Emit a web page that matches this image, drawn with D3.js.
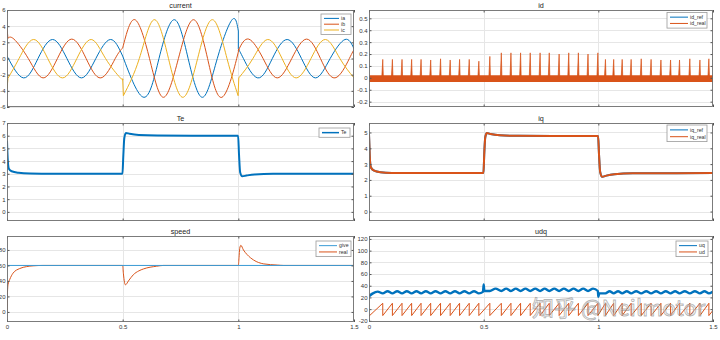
<!DOCTYPE html>
<html><head><meta charset="utf-8">
<script src="https://cdn.jsdelivr.net/npm/d3@7"></script>
<style>body{margin:0;background:#fff}svg{display:block}</style>
</head><body><svg id="c" width="720" height="340"></svg>
<script>
// ---------- DATA ----------
const xTicks = [0, 0.5, 1, 1.5];
const xTickLabels = ["0", "0.5", "1", "1.5"];

// current (phase currents, key points: extrema / zero crossings), null = step break
const ia = [[0,0.3],[0.072,-2.4],[0.134,0],[0.197,2.35],[0.259,0],[0.322,-2.4],[0.384,0],[0.447,2.35],[0.5,0.3],null,
  [0.5,0.3],[0.592,-4.8],[0.657,0],[0.723,4.8],[0.783,0],[0.845,-4.8],[0.909,0],[0.973,4.8],[1.0,3.4],null,
  [1.0,1.2],[1.022,0],[1.084,-2.4],[1.147,0],[1.211,2.35],[1.273,0],[1.334,-2.4],[1.397,0],[1.461,2.35],[1.5,1.2]];
const ib = [[0,3.8],[0.004,2.5],null,
  [0.004,2.5],[0.030,2.4],[0.092,0],[0.156,-2.4],[0.218,0],[0.280,2.4],[0.342,0],[0.406,-2.4],[0.468,0],[0.5,1.3],null,
  [0.5,1.3],[0.553,4.8],[0.616,0],[0.676,-4.8],[0.741,0],[0.806,4.8],[0.867,0],[0.929,-4.8],[0.993,0],[1.0,1.0],null,
  [1.0,1.0],[1.045,2.4],[1.107,0],[1.168,-2.4],[1.231,0],[1.295,2.4],[1.355,0],[1.418,-2.4],[1.480,0],[1.5,1.1]];
const ic = [[0,-3.8],[0.004,-2.5],null,
  [0.004,-2.45],[0.052,0],[0.114,2.35],[0.176,0],[0.240,-2.4],[0.302,0],[0.364,2.35],[0.426,0],[0.490,-2.4],[0.5,-2.5],null,
  [0.503,-4.6],[0.572,0],[0.636,4.8],[0.698,0],[0.760,-4.8],[0.824,0],[0.889,4.8],[0.951,0],[0.999,-4.6],null,
  [1.002,-2.4],[1.063,0],[1.127,2.35],[1.189,0],[1.250,-2.4],[1.314,0],[1.377,2.35],[1.439,0],[1.5,-2.4]];

// id
const idRef = [[0,0],[1.5,0]];
const idSpikeT = [0.060,0.102,0.144,0.186,0.227,0.269,0.312,0.354,0.395,0.437,0.479,0.527,0.577,0.619,0.661,0.703,0.746,0.786,0.829,0.871,0.913,0.955,0.998,1.031,1.067,1.104,1.143,1.187,1.230,1.273,1.315,1.354,1.399,1.443,1.482];
const idSpikeV = [0.155,0.155,0.155,0.155,0.155,0.15,0.16,0.15,0.155,0.155,0.14,0.18,0.21,0.21,0.21,0.21,0.21,0.21,0.2,0.21,0.21,0.2,0.21,0.155,0.155,0.155,0.155,0.16,0.155,0.15,0.15,0.15,0.16,0.15,0.16];
const idBand = [-0.035, 0.022];

// Te
const te = [[0,5.6],[0.003,4.2],[0.008,3.4],[0.02,3.2],[0.05,3.08],[0.1,3.02],[0.2,3.0],[0.499,3.0],[0.503,4.5],[0.507,5.8],[0.514,6.22],[0.53,6.15],[0.57,6.05],[0.65,6.01],[0.8,6.0],[0.999,6.0],[1.003,4.5],[1.008,3.1],[1.017,2.8],[1.035,2.86],[1.07,2.95],[1.15,3.0],[1.5,3.0]];

// iq
const iqRef = [[0,4.9],[0.003,3.6],[0.008,2.8],[0.02,2.6],[0.05,2.48],[0.1,2.44],[0.2,2.43],[0.499,2.43],[0.503,3.8],[0.507,4.7],[0.514,4.96],[0.53,4.9],[0.57,4.82],[0.65,4.79],[0.8,4.78],[0.999,4.78],[1.003,3.6],[1.008,2.5],[1.017,2.2],[1.035,2.27],[1.07,2.36],[1.15,2.42],[1.5,2.43]];
const iqReal = [[0,4.9],[0.003,3.6],[0.008,2.8],[0.02,2.6],[0.05,2.48],[0.1,2.44],[0.2,2.43],[0.499,2.43],[0.503,3.8],[0.507,4.7],[0.514,4.96],[0.53,4.9],[0.57,4.82],[0.65,4.79],[0.8,4.78],[0.999,4.78],[1.003,3.6],[1.008,2.5],[1.017,2.2],[1.035,2.27],[1.07,2.36],[1.15,2.42],[1.5,2.43]];

// speed
const speedGive = [[0,60],[1.5,60]];
const speedReal = [[0,0],[0.002,25],[0.005,36],[0.012,42],[0.026,50],[0.055,56],[0.085,58.5],[0.113,59.5],[0.156,60],[0.5,60],[0.503,50],[0.508,38],[0.512,35],[0.525,40],[0.546,48],[0.57,53],[0.59,55.5],[0.647,59],[0.676,60],[1.0,60],[1.003,70],[1.006,82],[1.011,86],[1.022,80],[1.038,74],[1.066,67],[1.11,62],[1.168,60.5],[1.196,60],[1.5,60]];

// udq
const uq = [[0,22],[0.015,26.5],[0.038,30],[0.060,27],[0.081,30.5],[0.102,27],[0.123,30.5],[0.144,27],[0.165,30.5],[0.186,27],[0.207,30.5],[0.227,27],[0.248,30.5],[0.269,27],[0.290,30.5],[0.312,27],[0.333,30.5],[0.354,27],[0.375,30.5],[0.395,27],[0.416,30.5],[0.437,27],[0.458,30.5],[0.479,27],[0.497,29.5],[0.5,42],[0.503,31],[0.527,31],[0.552,35],[0.577,31],[0.598,35],[0.619,31],[0.640,35],[0.661,31],[0.682,35],[0.703,31],[0.725,35],[0.746,31],[0.766,35],[0.786,31],[0.808,35],[0.829,31],[0.850,35],[0.871,31],[0.892,35],[0.913,31],[0.934,35],[0.955,31],[0.977,35],[0.998,31],[1.0,21],[1.004,27],[1.031,27],[1.049,30.5],[1.067,27],[1.086,30.5],[1.104,27],[1.124,30.5],[1.143,27],[1.165,30.5],[1.187,27],[1.209,30.5],[1.230,27],[1.252,30.5],[1.273,27],[1.294,30.5],[1.315,27],[1.335,30.5],[1.354,27],[1.377,30.5],[1.399,27],[1.421,30.5],[1.443,27],[1.463,30.5],[1.482,27],[1.5,30]];
const udDropT = idSpikeT;
const udLevels = [-11, 10];
const udStart = [0, -12];
const udEnd = [1.5, -2];

// ---------- DRAW ----------
const C = {blue:"#0072BD", orange:"#D95319", yellow:"#EDB120", lightBlue:"#3A9BD5"};
const svg = d3.select("#c");
const FONT = "'Liberation Sans', Arial, sans-serif";

function panel(cfg){
  const g = svg.append("g");
  const x = d3.scaleLinear().domain([0,1.5]).range([cfg.x0,cfg.x1]);
  const y = d3.scaleLinear().domain(cfg.dom).range([cfg.y1,cfg.y0]);
  g.append("rect").attr("x",cfg.x0).attr("y",cfg.y0).attr("width",cfg.x1-cfg.x0).attr("height",cfg.y1-cfg.y0).attr("fill","#fff");
  g.selectAll(".gy").data(cfg.ticks).join("line").attr("x1",cfg.x0).attr("x2",cfg.x1)
    .attr("y1",d=>Math.round(y(d))+0.5).attr("y2",d=>Math.round(y(d))+0.5).attr("stroke","#e6e6e6").attr("stroke-width",1);
  g.selectAll(".gx").data([0.5,1]).join("line").attr("y1",cfg.y0).attr("y2",cfg.y1)
    .attr("x1",d=>Math.round(x(d))+0.5).attr("x2",d=>Math.round(x(d))+0.5).attr("stroke","#e6e6e6").attr("stroke-width",1);
  const cid = "clip-"+cfg.name;
  svg.append("clipPath").attr("id",cid).append("rect").attr("x",cfg.x0).attr("y",cfg.y0).attr("width",cfg.x1-cfg.x0).attr("height",cfg.y1-cfg.y0);
  const plot = g.append("g").attr("clip-path",`url(#${cid})`);
  const axes = g.append("g");
  const fmt = v => String(v);
  const styleAx = a => { a.attr("font-family",FONT).attr("font-size",6); a.select(".domain").remove(); a.selectAll("line").attr("stroke","#555"); a.selectAll("text").attr("fill","#333"); };
  axes.append("g").attr("transform",`translate(${cfg.x0},0)`).call(d3.axisLeft(y).tickValues(cfg.ticks).tickSize(-2.5).tickPadding(1.5).tickFormat(fmt)).call(styleAx);
  axes.append("g").attr("transform",`translate(${cfg.x1},0)`).call(d3.axisRight(y).tickValues(cfg.ticks).tickSize(-2.5).tickFormat("")).call(styleAx);
  axes.append("g").attr("transform",`translate(0,${cfg.y1})`).call(d3.axisBottom(x).tickValues(xTicks).tickSize(-2.5).tickPadding(3).tickFormat((d,i)=>cfg.xlab?xTickLabels[i]:"")).call(styleAx);
  axes.append("g").attr("transform",`translate(0,${cfg.y0})`).call(d3.axisTop(x).tickValues(xTicks).tickSize(-2.5).tickFormat("")).call(styleAx);
  g.append("rect").attr("x",cfg.x0+0.5).attr("y",cfg.y0+0.5).attr("width",cfg.x1-cfg.x0-1).attr("height",cfg.y1-cfg.y0-1)
    .attr("fill","none").attr("stroke","#6e6e6e").attr("stroke-width",0.9);
  g.append("text").attr("x",(cfg.x0+cfg.x1)/2).attr("y",cfg.y0-2.5).attr("text-anchor","middle")
    .attr("font-family",FONT).attr("font-size",7.2).attr("fill","#222").text(cfg.name);
  return {g, plot, x, y, cfg};
}

function series(P, data, color, width, curve){
  const segs = []; let cur = [];
  data.forEach(d => { if (d === null) { segs.push(cur); cur = []; } else cur.push(d); });
  segs.push(cur);
  const line = d3.line().x(d=>P.x(d[0])).y(d=>P.y(d[1])).curve(curve || d3.curveLinear);
  const lin = d3.line().x(d=>P.x(d[0])).y(d=>P.y(d[1]));
  segs.forEach((s,i) => {
    P.plot.append("path").attr("d",line(s)).attr("fill","none").attr("stroke",color).attr("stroke-width",width).attr("stroke-linejoin","round");
    if (i>0) P.plot.append("path").attr("d",lin([segs[i-1][segs[i-1].length-1], s[0]])).attr("fill","none").attr("stroke",color).attr("stroke-width",width);
  });
}

function legend(P, right, top, w, items, sp){
  const h = items.length*sp + 3;
  const L = P.g.append("g");
  L.append("rect").attr("x",right-w).attr("y",top).attr("width",w).attr("height",h).attr("fill","#fff").attr("stroke","#9a9a9a").attr("stroke-width",0.8);
  items.forEach((it,i) => {
    const yy = top + 1.5 + sp/2 + i*sp;
    L.append("line").attr("x1",right-w+3).attr("x2",right-w+3+it.len).attr("y1",yy).attr("y2",yy).attr("stroke",it.color).attr("stroke-width",it.width);
    L.append("text").attr("x",right-w+5+it.len).attr("y",yy+1.8).attr("font-family",FONT).attr("font-size",5.2).attr("fill","#333").text(it.label);
  });
}

// current
const P1 = panel({name:"current",x0:7,x1:354,y0:10,y1:107,dom:[-6,6],ticks:[-6,-4,-2,0,2,4,6],xlab:false});
series(P1, ia, C.blue, 1, d3.curveNatural);
series(P1, ib, C.orange, 1, d3.curveNatural);
series(P1, ic, C.yellow, 1, d3.curveNatural);
legend(P1, 351, 14, 30, [{label:"ia",color:C.blue,width:1,len:15},{label:"ib",color:C.orange,width:1,len:15},{label:"ic",color:C.yellow,width:1,len:15}], 5.8);

// id
const P2 = panel({name:"id",x0:369,x1:713,y0:10,y1:107,dom:[-0.245,0.57],ticks:[-0.2,-0.1,0,0.1,0.2,0.3,0.4,0.5],xlab:false});
series(P2, idRef, C.blue, 1);
P2.plot.append("path").attr("d", d3.area().x(d=>P2.x(d)).y0(P2.y(idBand[0])).y1(P2.y(idBand[1]))([0,1.5])).attr("fill",C.orange);
P2.plot.selectAll(".sp").data(idSpikeT).join("path")
  .attr("d",(t,i)=>d3.line()([[P2.x(t)-1,P2.y(0)],[P2.x(t),P2.y(idSpikeV[i])],[P2.x(t)+0.6,P2.y(0)]]))
  .attr("fill",C.orange).attr("stroke",C.orange).attr("stroke-width",0.7);
legend(P2, 707, 12.5, 40, [{label:"id_ref",color:C.blue,width:1,len:18},{label:"id_real",color:C.orange,width:1,len:18}], 6.3);

// Te
const P3 = panel({name:"Te",x0:7,x1:354,y0:123,y1:221,dom:[-0.72,7],ticks:[0,1,2,3,4,5,6,7],xlab:false});
series(P3, te, C.blue, 2, d3.curveMonotoneX);
legend(P3, 350, 128, 31, [{label:"Te",color:C.blue,width:1.5,len:17}], 6.3);

// iq
const P4 = panel({name:"iq",x0:369,x1:713,y0:123,y1:221,dom:[-0.6,5.6],ticks:[0,1,2,3,4,5],xlab:false});
series(P4, iqRef, C.blue, 2, d3.curveMonotoneX);
series(P4, iqReal, C.orange, 2, d3.curveMonotoneX);
legend(P4, 707, 125, 40, [{label:"iq_ref",color:C.blue,width:1,len:18},{label:"iq_real",color:C.orange,width:1,len:18}], 6.8);

// speed
const P5 = panel({name:"speed",x0:7,x1:354,y0:236,y1:322,dom:[-13,98],ticks:[0,20,40,60,80],xlab:true});
series(P5, speedReal, C.orange, 1, d3.curveMonotoneX);
series(P5, speedGive, C.lightBlue, 1);
legend(P5, 351, 241, 35, [{label:"give",color:C.lightBlue,width:1,len:18},{label:"real",color:C.orange,width:1,len:18}], 6.3);

// udq
const P6 = panel({name:"udq",x0:369,x1:713,y0:236,y1:322,dom:[-22,125],ticks:[-20,0,20,40,60,80,100,120],xlab:true});
series(P6, uq, C.blue, 2.4, d3.curveMonotoneX);
const udPts = [udStart];
udDropT.forEach(t => { udPts.push([t, udLevels[1]]); udPts.push([t, udLevels[0]]); });
udPts.push(udEnd);
series(P6, udPts, C.orange, 1);
legend(P6, 708, 241, 32, [{label:"uq",color:C.blue,width:1,len:18},{label:"ud",color:C.orange,width:1,len:18}], 6.3);

// watermark
svg.append("text").attr("x",532).attr("y",316).attr("font-family","'Noto Sans CJK SC', 'Noto Sans', sans-serif")
  .attr("font-size",22).attr("fill","rgba(255,255,255,0.35)").attr("stroke","rgba(120,120,120,0.55)").attr("stroke-width",0.9)
  .text("知乎 @Neilmotor");
</script></body></html>
